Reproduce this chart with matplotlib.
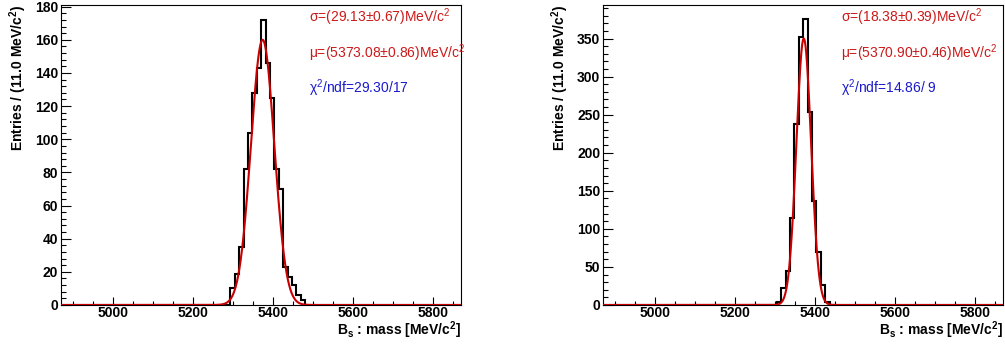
import numpy as np
import matplotlib
matplotlib.use("Agg")
import matplotlib.pyplot as plt
from matplotlib.ticker import MultipleLocator

plt.rcParams['font.family'] = ['Liberation Sans', 'DejaVu Sans']
plt.rcParams['mathtext.fontset'] = 'custom'
plt.rcParams['mathtext.rm'] = 'Liberation Sans'
plt.rcParams['mathtext.it'] = 'Liberation Sans:italic'
plt.rcParams['mathtext.bf'] = 'Liberation Sans:bold'

# mass window and binning
x_range = (4869.0, 5869.0)
bin_width = 11.0

# left: wide candidate sample
left_start = 5292.5
left_counts = [10, 19, 35, 82, 104, 128, 143, 172, 146, 125, 82, 70, 23, 17, 12, 6, 3]
left_sigma, left_sigma_err = 29.13, 0.67
left_mu, left_mu_err = 5373.08, 0.86
left_amp = 160.0
left_chi2, left_ndf = "29.30", "17"
left_ymax = 181.0

# right: narrow candidate sample
right_start = 5303.5
right_counts = [4, 22, 44, 114, 238, 352, 376, 253, 136, 70, 26, 4]
right_sigma, right_sigma_err = 18.38, 0.39
right_mu, right_mu_err = 5370.90, 0.46
right_amp = 350.0
right_chi2, right_ndf = "14.86", " 9"
right_ymax = 394.0

W, H = 1005, 345
fig = plt.figure(figsize=(W / 100, H / 100), dpi=100)

fit_red = '#c80000'
txt_red = '#cc1a1a'
txt_blue = '#1a1acc'


def full_hist(start, counts):
    # pad the filled bins with empty ones out to the window edges
    n_lo = int(np.ceil((start - x_range[0]) / bin_width)) + 1
    n_hi = int(np.ceil((x_range[1] - (start + bin_width * len(counts))) / bin_width)) + 1
    edges = start + bin_width * np.arange(-n_lo, len(counts) + n_hi + 1)
    vals = np.concatenate([np.zeros(n_lo), counts, np.zeros(n_hi)])
    return edges, vals


def panel(x0, start, counts, mu, mu_err, sigma, sigma_err, amp, chi2, ndf,
          ymax, ymajor, yminor, text_x):
    ax = fig.add_axes([x0 / W, 40 / H, 400 / W, 300 / H])
    edges, vals = full_hist(start, counts)
    ax.stairs(vals, edges, color='black', lw=1.5, baseline=None, zorder=2)

    xs = np.linspace(x_range[0], x_range[1], 2000)
    ax.plot(xs, amp * np.exp(-0.5 * ((xs - mu) / sigma) ** 2),
            color=fit_red, lw=1.5, zorder=3)

    ax.set_xlim(*x_range)
    ax.set_ylim(0, ymax)
    ax.xaxis.set_major_locator(MultipleLocator(200))
    ax.xaxis.set_minor_locator(MultipleLocator(50))
    ax.yaxis.set_major_locator(MultipleLocator(ymajor))
    ax.yaxis.set_minor_locator(MultipleLocator(yminor))
    ax.tick_params(which='both', direction='in', top=False, right=False,
                   labelsize=10, width=0.8)
    ax.tick_params(axis='y', which='major', length=7, pad=2)
    ax.tick_params(axis='y', which='minor', length=3.5)
    ax.tick_params(axis='x', which='major', length=6, pad=1)
    ax.tick_params(axis='x', which='minor', length=3)
    for lab in ax.get_xticklabels() + ax.get_yticklabels():
        lab.set_fontweight('bold')
    for sp in ax.spines.values():
        sp.set_linewidth(0.8)

    fs = 10
    fig.text(text_x / W, 1 - 17 / H,
             "σ=(%.2f±%.2f)MeV/c$^2$" % (sigma, sigma_err),
             color=txt_red, fontsize=fs, va='center', ha='left')
    fig.text(text_x / W, 1 - 53 / H,
             "μ=(%.2f±%.2f)MeV/c$^2$" % (mu, mu_err),
             color=txt_red, fontsize=fs, va='center', ha='left')
    fig.text(text_x / W, 1 - 88 / H,
             "χ$^2$/ndf=%s/%s" % (chi2, ndf),
             color=txt_blue, fontsize=fs, va='center', ha='left')

    fig.text((x0 - 43) / W, 1 - 5 / H, r"Entries / (11.0 MeV/c$^{\mathbf{2}}$)",
             rotation=90, ha='center', va='top', fontsize=10, fontweight='bold')
    fig.text((x0 + 400) / W, 1 - 330 / H, r"B$_{\mathbf{s}}$ : mass [MeV/c$^{\mathbf{2}}$]",
             ha='right', va='center', fontsize=10, fontweight='bold')
    return ax


panel(61, left_start, left_counts, left_mu, left_mu_err, left_sigma, left_sigma_err,
      left_amp, left_chi2, left_ndf, left_ymax, 20, 4, 309)
panel(603, right_start, right_counts, right_mu, right_mu_err, right_sigma, right_sigma_err,
      right_amp, right_chi2, right_ndf, right_ymax, 50, 10, 841)

fig.savefig("out.png", dpi=100)
